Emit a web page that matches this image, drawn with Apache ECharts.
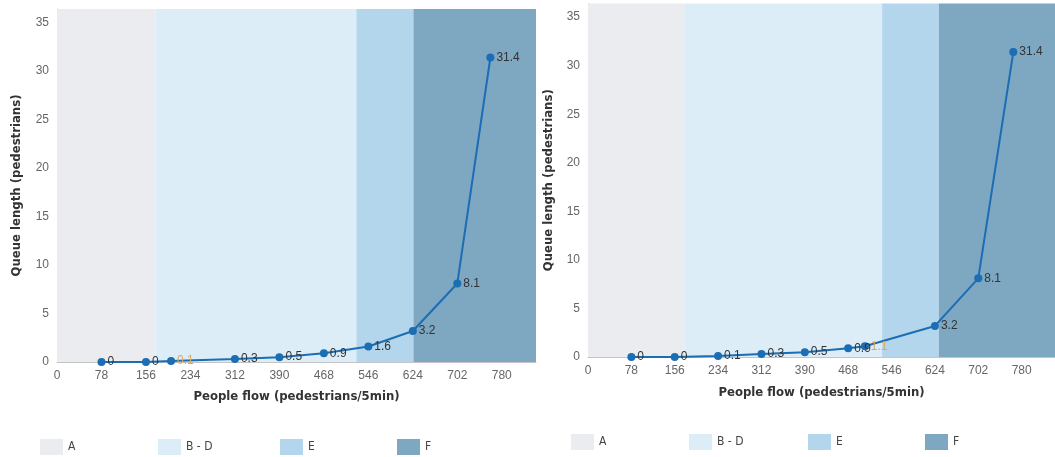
<!DOCTYPE html>
<html>
<head>
<meta charset="utf-8">
<script src="https://cdn.jsdelivr.net/npm/echarts@6/dist/echarts.min.js"></script>
<style>
html,body{margin:0;padding:0;background:#fff;}
#chart{width:1055px;height:457px;}
</style>
</head>
<body>
<div id="chart"></div>
<script>
// ---- data ----
const bandNames = ['A', 'B - D', 'E', 'F'];
const bandColors = ['#eaecef', '#dcedf7', '#b4d6ed', '#7ea7c2'];
const leftBandEdges = [0, 173, 525, 625, 840];
const rightBandEdges = [0, 173, 529, 631, 840];

const leftFlow  = [78, 156, 200, 312, 390, 468, 546, 624, 702, 760];
const leftQueue = [0, 0, 0.1, 0.3, 0.5, 0.9, 1.6, 3.2, 8.1, 31.4];
const leftCurrentFlow = 200;

const rightFlow  = [78, 156, 234, 312, 390, 468, 498, 624, 702, 765];
const rightQueue = [0, 0, 0.1, 0.3, 0.5, 0.9, 1.1, 3.2, 8.1, 31.4];
const rightCurrentFlow = 498;

const xTickStep = 78;
const xMax = 840;
const yTickStep = 5;
const yMax = 36.4;

const xName = 'People flow (pedestrians/5min)';
const yName = 'Queue length (pedestrians)';

// ---- styles / layout ----
const lineColor = '#1b6db4';
const currentLabelColor = '#d9a866';
const condensed = '"DejaVu Sans Condensed", "DejaVu Sans", sans-serif';
const arial = '"Liberation Sans", Arial, sans-serif';
const leftLegendX = [40, 158, 280, 397];
const rightLegendX = [571, 689, 808, 925];

function lineData(xs, ys, cur) {
  return xs.map((x, i) => {
    const item = { value: [x, ys[i]] };
    if (x === cur) item.label = { color: currentLabelColor };
    return item;
  });
}

function bandSeries(edges, axisIndex) {
  return bandNames.map((n, i) => ({
    name: n,
    type: 'line',
    xAxisIndex: axisIndex,
    yAxisIndex: axisIndex,
    data: [],
    silent: true,
    itemStyle: { color: bandColors[i] },
    lineStyle: { color: bandColors[i] },
    markArea: {
      silent: true,
      itemStyle: { color: bandColors[i], opacity: 1 },
      data: [[{ xAxis: edges[i] }, { xAxis: edges[i + 1] }]]
    },
    z: 1
  }));
}

function xAxisCfg(gridIndex, gap) {
  return {
    type: 'value', gridIndex, min: 0, max: xMax, interval: xTickStep,
    name: xName, nameLocation: 'middle', nameGap: gap,
    nameTextStyle: { fontFamily: condensed, fontWeight: 'bold', fontSize: 13, color: '#333' },
    axisLine: { show: true, lineStyle: { color: '#c4c4c4', width: 1 } },
    axisTick: { show: false },
    splitLine: { show: false },
    axisLabel: { fontFamily: arial, fontSize: 12, color: '#666', margin: 8, showMaxLabel: false }
  };
}
function yAxisCfg(gridIndex, gap) {
  return {
    type: 'value', gridIndex, min: 0, max: yMax, interval: yTickStep,
    name: yName, nameLocation: 'middle', nameGap: gap,
    nameTextStyle: { fontFamily: condensed, fontWeight: 'bold', fontSize: 13, color: '#333' },
    axisLine: { show: true, lineStyle: { color: '#c4c4c4', width: 1 } },
    axisTick: { show: false },
    splitLine: { show: false },
    axisLabel: { fontFamily: arial, fontSize: 12, color: '#666', margin: 8, showMaxLabel: false }
  };
}

function mainSeries(xs, ys, cur, axisIndex) {
  return {
    name: 'Queue',
    type: 'line',
    xAxisIndex: axisIndex,
    yAxisIndex: axisIndex,
    data: lineData(xs, ys, cur),
    symbol: 'circle',
    symbolSize: 8,
    itemStyle: { color: lineColor },
    lineStyle: { color: lineColor, width: 2 },
    label: {
      show: true, position: 'right', distance: 2,
      fontFamily: arial, fontSize: 12, color: '#333'
    },
    z: 5
  };
}

function legendsAt(xs, top) {
  return bandNames.map((n, i) => ({
    data: [n], left: xs[i], top, padding: 0,
    icon: 'rect', itemWidth: 23, itemHeight: 16,
    selectedMode: false,
    textStyle: { fontFamily: condensed, fontSize: 12, color: '#444' }
  }));
}

const chart = echarts.init(document.getElementById('chart'), null, { renderer: 'canvas' });
chart.setOption({
  animation: false,
  backgroundColor: '#fff',
  grid: [
    { left: 57, top: 9, width: 479, height: 353 },
    { left: 588, top: 3.5, width: 470, height: 353.5 }
  ],
  xAxis: [xAxisCfg(0, 28), xAxisCfg(1, 29)],
  yAxis: [yAxisCfg(0, 34), yAxisCfg(1, 33)],
  legend: [...legendsAt(leftLegendX, 439), ...legendsAt(rightLegendX, 434)],
  series: [
    ...bandSeries(leftBandEdges, 0),
    ...bandSeries(rightBandEdges, 1),
    mainSeries(leftFlow, leftQueue, leftCurrentFlow, 0),
    mainSeries(rightFlow, rightQueue, rightCurrentFlow, 1)
  ]
});
</script>
</body>
</html>
